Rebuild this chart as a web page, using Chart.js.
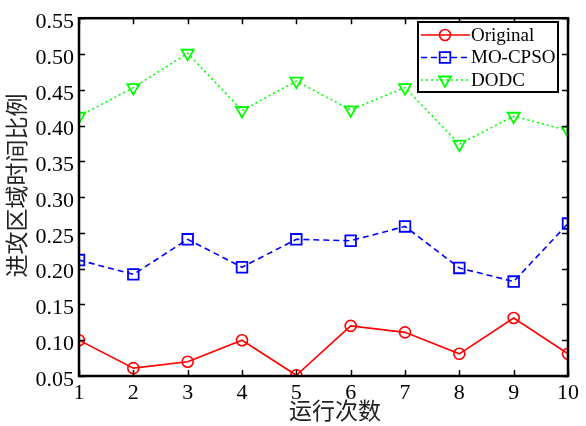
<!DOCTYPE html>
<html>
<head>
<meta charset="utf-8">
<script src="https://cdn.jsdelivr.net/npm/chart.js@4"></script>
<style>
  html, body { margin: 0; padding: 0; background: #fff; }
  #wrap { width: 586px; height: 426px; }
</style>
</head>
<body>
<div id="wrap"><canvas id="runChart" width="586" height="426"></canvas></div>
<script>
// run index 1..10
const runs = [1, 2, 3, 4, 5, 6, 7, 8, 9, 10];
const originalData = [0.100, 0.061, 0.070, 0.100, 0.051, 0.120, 0.111, 0.081, 0.131, 0.081];
const mocpsoData = [0.212, 0.192, 0.241, 0.202, 0.241, 0.239, 0.259, 0.201, 0.182, 0.263];
const dodcData = [0.413, 0.453, 0.501, 0.421, 0.462, 0.422, 0.453, 0.374, 0.413, 0.393];
const seriesNames = ['Original', 'MO-CPSO', 'DODC'];
const yTicks = [0.05, 0.10, 0.15, 0.20, 0.25, 0.30, 0.35, 0.40, 0.45, 0.50, 0.55];

function toPoints(arr) {
    return runs.map((r, i) => ({ x: r, y: arr[i] }));
}

// inward ticks + thick box, like a matlab axes
const boxPlugin = {
    id: 'boxPlugin',
    afterDatasetsDraw(chart) {
        const ctx = chart.ctx;
        const a = chart.chartArea;
        const xs = chart.scales.x, ys = chart.scales.y;
        ctx.save();
        ctx.strokeStyle = '#000';
        ctx.lineWidth = 1.5;
        ctx.beginPath();
        runs.forEach(r => {
            const px = Math.round(xs.getPixelForValue(r)) + 0.5;
            ctx.moveTo(px, a.bottom); ctx.lineTo(px, a.bottom - 6);
            ctx.moveTo(px, a.top); ctx.lineTo(px, a.top + 6);
        });
        yTicks.forEach(v => {
            const py = Math.round(ys.getPixelForValue(v)) + 0.5;
            ctx.moveTo(a.left, py); ctx.lineTo(a.left + 6, py);
            ctx.moveTo(a.right, py); ctx.lineTo(a.right - 6, py);
        });
        ctx.stroke();
        ctx.lineWidth = 2.5;
        ctx.strokeRect(a.left, a.top, a.right - a.left, a.bottom - a.top);
        ctx.restore();
    }
};

// legend box in the upper right, line with marker through it
const legendPlugin = {
    id: 'legendPlugin',
    afterDraw(chart) {
        const ctx = chart.ctx;
        const x0 = 418, y0 = 22, w = 140, h = 70;
        ctx.save();
        ctx.fillStyle = '#fff';
        ctx.fillRect(x0, y0, w, h);
        ctx.strokeStyle = '#000';
        ctx.lineWidth = 2;
        ctx.strokeRect(x0, y0, w, h);
        chart.data.datasets.forEach((ds, i) => {
            const cy = y0 + 13 + i * 22.5;
            ctx.strokeStyle = ds.borderColor;
            ctx.lineWidth = ds.borderWidth;
            ctx.setLineDash(ds.borderDash || []);
            ctx.beginPath();
            ctx.moveTo(x0 + 3, cy);
            ctx.lineTo(x0 + 52, cy);
            ctx.stroke();
            ctx.setLineDash([]);
            ctx.fillStyle = 'rgba(0,0,0,0)';
            ctx.lineWidth = ds.pointBorderWidth;
            Chart.helpers.drawPoint(ctx, {
                pointStyle: ds.pointStyle,
                rotation: ds.pointRotation || 0,
                radius: ds.pointRadius,
                borderWidth: ds.pointBorderWidth
            }, x0 + 27, cy);
            ctx.fillStyle = '#000';
            ctx.font = '19px "Liberation Serif", "Times New Roman", serif';
            ctx.textBaseline = 'middle';
            ctx.fillText(ds.label, x0 + 53, cy + 1);
        });
        ctx.restore();
    }
};

const ctx = document.getElementById('runChart').getContext('2d');
const runChart = new Chart(ctx, {
    type: 'line',
    data: {
        datasets: [{
            label: seriesNames[0],
            data: toPoints(originalData),
            borderColor: '#ff0000',
            backgroundColor: 'rgba(0,0,0,0)',
            borderWidth: 1.6,
            pointStyle: 'circle',
            pointRadius: 5.5,
            pointBorderWidth: 1.6,
            pointBackgroundColor: 'rgba(0,0,0,0)',
            tension: 0
        }, {
            label: seriesNames[1],
            data: toPoints(mocpsoData),
            borderColor: '#0000ff',
            backgroundColor: 'rgba(0,0,0,0)',
            borderWidth: 1.6,
            borderDash: [6, 4],
            pointStyle: 'rect',
            pointRadius: 7.5,
            pointBorderWidth: 1.8,
            pointBackgroundColor: 'rgba(0,0,0,0)',
            tension: 0
        }, {
            label: seriesNames[2],
            data: toPoints(dodcData),
            borderColor: '#00ff00',
            backgroundColor: 'rgba(0,0,0,0)',
            borderWidth: 1.6,
            borderDash: [2, 3],
            pointStyle: 'triangle',
            pointRotation: 180,
            pointRadius: 7,
            pointBorderWidth: 1.8,
            pointBackgroundColor: 'rgba(0,0,0,0)',
            tension: 0
        }]
    },
    options: {
        responsive: false,
        animation: false,
        layout: { padding: { left: 0, right: 18, top: 14, bottom: 0 } },
        plugins: {
            legend: { display: false },
            tooltip: { enabled: false }
        },
        scales: {
            x: {
                type: 'linear',
                min: 1, max: 10,
                afterFit(scale) { scale.height = 50; },
                afterBuildTicks(scale) { scale.ticks = runs.map(v => ({ value: v })); },
                grid: { display: false, drawTicks: false },
                border: { display: false },
                ticks: {
                    padding: 4,
                    color: '#000',
                    font: { family: '"Liberation Serif", "Times New Roman", serif', size: 22 },
                    maxRotation: 0
                },
                title: {
                    display: true,
                    text: '\u3000运行次数',
                    color: '#222',
                    font: { family: '"Noto Sans CJK SC", sans-serif', size: 23, lineHeight: 1 },
                    padding: { top: 0, bottom: 4 }
                }
            },
            y: {
                min: 0.05, max: 0.55,
                afterFit(scale) { scale.width = 79; },
                afterBuildTicks(scale) { scale.ticks = yTicks.map(v => ({ value: v })); },
                grid: { display: false, drawTicks: false },
                border: { display: false },
                ticks: {
                    padding: 5,
                    labelOffset: 4,
                    color: '#000',
                    font: { family: '"Liberation Serif", "Times New Roman", serif', size: 22 },
                    callback: v => v.toFixed(2)
                },
                title: {
                    display: true,
                    text: '\u3000进攻区域时间比例',
                    color: '#222',
                    font: { family: '"Noto Sans CJK SC", sans-serif', size: 23, lineHeight: 1 },
                    padding: { top: 5, bottom: 0 }
                }
            }
        }
    },
    plugins: [boxPlugin, legendPlugin]
});
</script>
</body>
</html>
